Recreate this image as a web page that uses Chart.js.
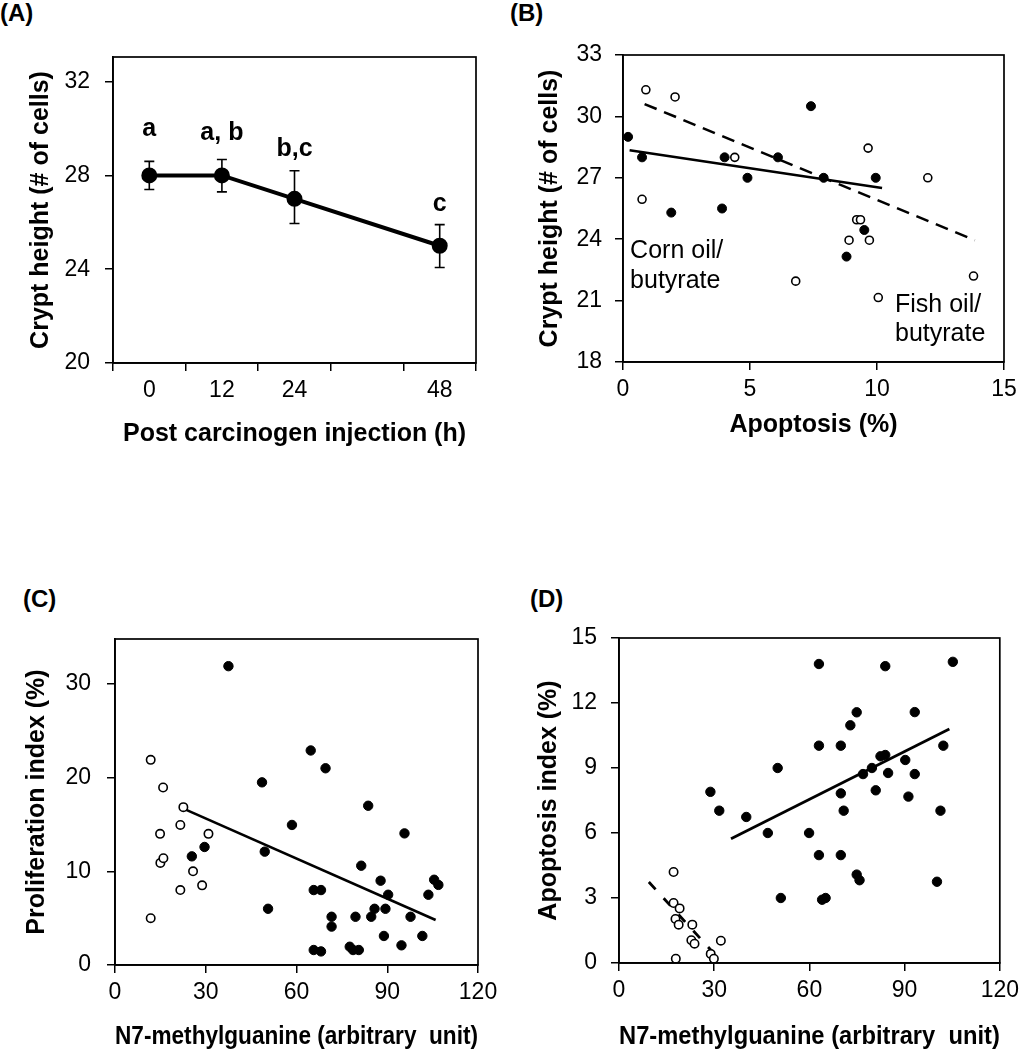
<!DOCTYPE html>
<html>
<head>
<meta charset="utf-8">
<script src="https://cdn.jsdelivr.net/npm/chart.js"></script>
<style>
  body { margin: 0; background: #fff; width: 1025px; height: 1050px; position: relative; overflow: hidden; }
  .panel { position: absolute; }
  .tag { position: absolute; font: bold 24px 'Liberation Sans', Arial, sans-serif; color: #000; }
</style>
</head>
<body>
<div class="tag" style="left:0px;top:-1px">(A)</div>
<div class="tag" style="left:510px;top:-1px">(B)</div>
<div class="tag" style="left:23px;top:585px">(C)</div>
<div class="tag" style="left:530px;top:585px">(D)</div>
<div class="panel" style="left:0px;top:0px;width:512px;height:460px"><canvas id="chartA"></canvas></div>
<div class="panel" style="left:512px;top:0px;width:513px;height:460px"><canvas id="chartB"></canvas></div>
<div class="panel" style="left:0px;top:560px;width:512px;height:490px"><canvas id="chartC"></canvas></div>
<div class="panel" style="left:512px;top:560px;width:513px;height:490px"><canvas id="chartD"></canvas></div>
<script>
// ---------- panel A: crypt height over time ----------
const aHours = ["0", "12", "24", "", "48"];
const aMean = [28, 28, 27, null, 25];
const aErrLow = [27.4, 27.3, 25.95, null, 24.07];
const aErrHigh = [28.6, 28.68, 28.2, null, 25.9];
const aLetters = ["a", "a, b", "b,c", "", "c"];
const aLetterY = [29.68, 29.51, 28.82, null, 26.47];
const aYTicks = [20, 24, 28, 32];

// ---------- panel B: crypt height vs apoptosis ----------
const bCornX = [0.2, 0.75, 1.9, 3.9, 4.0, 4.9, 6.1, 7.4, 7.9, 8.8, 9.5, 9.95];
const bCornY = [29.0, 28.0, 25.3, 25.5, 28.0, 27.0, 28.0, 30.5, 27.0, 23.15, 24.45, 27.0];
const bFishX = [0.9, 2.05, 0.75, 4.4, 6.8, 8.9, 9.2, 9.35, 9.65, 9.7, 10.05, 12.0, 13.8];
const bFishY = [31.3, 30.95, 25.95, 28.0, 21.95, 23.95, 24.95, 24.95, 28.45, 23.95, 21.15, 27.0, 22.2];
const bCornFitX = [0.26, 10.2];
const bCornFitY = [28.35, 26.5];
const bFishFitX = [0.85, 13.85];
const bFishFitY = [30.6, 23.95];
const bXTicks = [0, 5, 10, 15];
const bYTicks = [18, 21, 24, 27, 30, 33];

// ---------- panel C: proliferation vs N7-methylguanine ----------
const cOpenX = [11.8, 11.8, 15.9, 14.9, 15.0, 16.0, 22.6, 21.6, 21.6, 25.8, 28.8, 30.9];
const cOpenY = [21.9, 5.0, 18.95, 14.0, 10.9, 11.4, 16.85, 14.95, 8.0, 10.0, 8.5, 14.0];
const cFillX = [37.5, 25.4, 29.6, 48.6, 49.5, 50.6, 58.5, 64.7, 69.6, 65.7, 68.1, 65.7, 68.1, 71.6, 71.6,
  77.6, 78.7, 80.6, 79.5, 81.4, 83.7, 84.7, 85.8, 87.8, 89.4, 88.9, 90.3, 94.7, 95.7, 97.7, 101.6, 103.6, 105.5, 106.9];
const cFillY = [31.9, 11.6, 12.6, 19.5, 12.1, 6.0, 14.95, 22.9, 21.0, 8.0, 8.0, 1.6, 1.45, 5.15, 4.1,
  1.95, 1.6, 1.6, 5.15, 10.6, 17.0, 5.15, 6.0, 9.0, 6.0, 3.1, 7.5, 2.1, 14.05, 5.15, 3.1, 7.5, 9.1, 8.55];
const cFitX = [21.5, 106];
const cFitY = [16.85, 4.8];
const cXTicks = [0, 30, 60, 90, 120];
const cYTicks = [0, 10, 20, 30];

// ---------- panel D: apoptosis vs N7-methylguanine ----------
const dFillX = [28.8, 31.6, 40.1, 46.9, 50.0, 51.0, 59.9, 63.0, 63.0, 63.0, 64.0, 65.1, 69.9, 69.9, 69.9, 70.8,
  72.9, 74.9, 74.9, 75.8, 76.9, 79.7, 80.9, 82.4, 83.9, 83.9, 84.8, 90.2, 91.2, 93.2, 93.2, 100.2, 101.3, 102.2, 105.2];
const dFillY = [7.9, 7.03, 6.74, 6.0, 9.0, 3.0, 6.0, 13.8, 10.03, 4.98, 2.92, 3.0, 10.03, 7.83, 4.98, 7.03,
  10.97, 11.57, 4.08, 3.82, 8.72, 9.0, 7.97, 9.54, 9.6, 13.7, 8.77, 9.37, 7.68, 11.58, 8.72, 3.75, 7.03, 10.03, 13.9];
const dOpenX = [17.2, 17.2, 19.1, 17.8, 18.8, 23.1, 22.8, 23.8, 17.9, 28.9, 29.9, 32.1];
const dOpenY = [4.2, 2.77, 2.52, 2.03, 1.77, 1.77, 1.05, 0.89, 0.2, 0.42, 0.2, 1.03];
const dFillFitX = [35.3, 104.1];
const dFillFitY = [5.74, 10.8];
const dOpenFitX = [9.4, 29.8];
const dOpenFitY = [3.74, 0.46];
const dXTicks = [0, 30, 60, 90, 120];
const dYTicks = [0, 3, 6, 9, 12, 15];

// text notes in panel B, anchored at data coordinates
const bNoteText = ["Corn oil/", "butyrate", "Fish oil/", "butyrate"];
const bNoteX = [0.28, 0.28, 10.71, 10.71];
const bNoteY = [23.08, 21.63, 20.45, 19.03];

const FONT = "'Liberation Sans', Arial, sans-serif";
Chart.defaults.font.family = FONT;
Chart.defaults.color = "#000";

function pairs(xs, ys) {
    return xs.map((x, i) => ({ x: x, y: ys[i] }));
}

function axis(o) {
    return {
        type: o.type || "linear",
        min: o.min,
        max: o.max,
        offset: o.offset || false,
        ticks: {
            padding: o.pad,
            font: { size: 23 },
            color: "#000",
            maxRotation: 0,
            autoSkip: false,
        },
        grid: {
            drawOnChartArea: false,
            drawTicks: true,
            tickLength: 8,
            color: "#000",
            lineWidth: 1.5,
            offset: o.gridOffset || false,
        },
        border: { display: true, color: "#000", width: 1.7 },
        title: {
            display: true,
            text: o.title,
            color: "#000",
            font: { size: 25, weight: "bold", lineHeight: 1 },
            padding: o.titlePad,
        },
        afterBuildTicks: o.ticks
            ? (s) => {
                  s.ticks = o.ticks.map((v) => ({ value: v }));
              }
            : undefined,
        afterFit: (s) => {
            if (o.w !== undefined) s.width = o.w;
            if (o.h !== undefined) s.height = o.h;
        },
    };
}

// box around the plot area
const frame = {
    id: "frame",
    afterDraw(chart) {
        const { ctx, chartArea: a } = chart;
        ctx.save();
        ctx.strokeStyle = "#000";
        ctx.lineWidth = 1.7;
        ctx.strokeRect(a.left, a.top, a.right - a.left, a.bottom - a.top);
        ctx.restore();
    },
};

function notes(texts, xs, ys, font, align) {
    return {
        id: "notes",
        afterDatasetsDraw(chart) {
            const { ctx, scales } = chart;
            ctx.save();
            ctx.fillStyle = "#000";
            ctx.font = font;
            ctx.textAlign = align;
            ctx.textBaseline = "alphabetic";
            texts.forEach((t, i) => {
                if (!t) return;
                ctx.fillText(t, scales.x.getPixelForValue(xs[i]), scales.y.getPixelForValue(ys[i]));
            });
            ctx.restore();
        },
    };
}

const errorBars = {
    id: "errorBars",
    beforeDatasetsDraw(chart) {
        const { ctx, scales } = chart;
        ctx.save();
        ctx.strokeStyle = "#000";
        ctx.lineWidth = 1.6;
        aErrLow.forEach((lo, i) => {
            if (lo === null) return;
            const x = scales.x.getPixelForValue(i);
            const y0 = scales.y.getPixelForValue(lo);
            const y1 = scales.y.getPixelForValue(aErrHigh[i]);
            ctx.beginPath();
            ctx.moveTo(x, y0);
            ctx.lineTo(x, y1);
            ctx.moveTo(x - 5, y0);
            ctx.lineTo(x + 5, y0);
            ctx.moveTo(x - 5, y1);
            ctx.lineTo(x + 5, y1);
            ctx.stroke();
        });
        ctx.restore();
    },
};

function baseOptions(pad, xAxis, yAxis) {
    return {
        responsive: true,
        maintainAspectRatio: false,
        animation: false,
        layout: { padding: pad },
        plugins: { legend: { display: false }, tooltip: { enabled: false } },
        scales: { x: xAxis, y: yAxis },
    };
}

function filled(data, r) {
    return { type: "scatter", data: data, pointRadius: r, pointBackgroundColor: "#000", pointBorderColor: "#000", pointBorderWidth: 1, showLine: false };
}
function open(data, r) {
    return { type: "scatter", data: data, pointRadius: r, pointBackgroundColor: "#fff", pointBorderColor: "#000", pointBorderWidth: 1.6, showLine: false };
}
function fit(data, dash, w) {
    return { type: "line", data: data, borderColor: "#000", borderWidth: w, borderDash: dash, pointRadius: 0, fill: false, tension: 0 };
}

// panel A
new Chart(document.getElementById("chartA"), {
    type: "line",
    data: {
        labels: aHours,
        datasets: [
            {
                data: aMean,
                borderColor: "#000",
                borderWidth: 4,
                pointRadius: 6,
                pointBackgroundColor: "#000",
                pointBorderColor: "#000",
                spanGaps: true,
                tension: 0,
            },
        ],
    },
    options: baseOptions(
        { left: 0, right: 36, top: 57, bottom: 0 },
        axis({ type: "category", offset: true, gridOffset: true, pad: 6, title: "Post carcinogen injection (h)", titlePad: { top: 0, bottom: 13.5 }, h: 97 }),
        axis({ min: 20, max: 33.05, ticks: aYTicks, pad: 15, title: "Crypt height (# of cells)", titlePad: { top: 29, bottom: 0 }, w: 113 })
    ),
    plugins: [frame, errorBars, notes(aLetters, [0, 1, 2, 3, 4], aLetterY, "bold 25px " + FONT, "center")],
});

// panel B
new Chart(document.getElementById("chartB"), {
    type: "scatter",
    data: {
        datasets: [
            filled(pairs(bCornX, bCornY), 4.5),
            open(pairs(bFishX, bFishY), 4),
            fit(pairs(bCornFitX, bCornFitY), [], 2.6),
            fit(pairs(bFishFitX, bFishFitY), [13, 8], 2.6),
        ],
    },
    options: baseOptions(
        { left: 0, right: 21, top: 55, bottom: 0 },
        axis({ min: 0, max: 15, ticks: bXTicks, pad: 6, title: "Apoptosis (%)", titlePad: { top: 0, bottom: 22 }, h: 98 }),
        axis({ min: 18, max: 33, ticks: bYTicks, pad: 13, title: "Crypt height (# of cells)", titlePad: { top: 25.5, bottom: 0 }, w: 111 })
    ),
    plugins: [frame, notes(bNoteText, bNoteX, bNoteY, "25px " + FONT, "left")],
});

// panel C
new Chart(document.getElementById("chartC"), {
    type: "scatter",
    data: {
        datasets: [
            filled(pairs(cFillX, cFillY), 4.7),
            open(pairs(cOpenX, cOpenY), 4.2),
            fit(pairs(cFitX, cFitY), [], 2.6),
        ],
    },
    options: baseOptions(
        { left: 0, right: 34, top: 79, bottom: 0 },
        axis({ min: 0, max: 120, ticks: cXTicks, pad: 6, title: "N7-methylguanine (arbitrary  unit)", titlePad: { top: 0, bottom: 0.8 }, h: 85 }),
        axis({ min: 0, max: 34.8, ticks: cYTicks, pad: 16, title: "Proliferation index (%)", titlePad: { top: 24.2, bottom: 0 }, w: 115 })
    ),
    plugins: [frame],
});

// panel D
new Chart(document.getElementById("chartD"), {
    type: "scatter",
    data: {
        datasets: [
            filled(pairs(dFillX, dFillY), 4.7),
            open(pairs(dOpenX, dOpenY), 4.2),
            fit(pairs(dFillFitX, dFillFitY), [], 2.8),
            fit(pairs(dOpenFitX, dOpenFitY), [10, 12], 2.8),
        ],
    },
    options: baseOptions(
        { left: 0, right: 23, top: 78, bottom: 0 },
        axis({ min: 0, max: 120, ticks: dXTicks, pad: 6, title: "N7-methylguanine (arbitrary  unit)", titlePad: { top: 0, bottom: 0.8 }, h: 87 }),
        axis({ min: 0, max: 15, ticks: dYTicks, pad: 14, title: "Apoptosis index (%)", titlePad: { top: 25, bottom: 0 }, w: 107 })
    ),
    plugins: [frame],
});
</script>
</body>
</html>
